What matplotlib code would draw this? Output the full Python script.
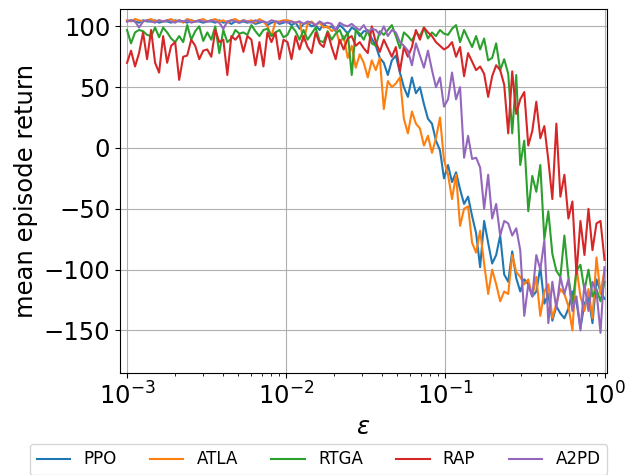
import matplotlib
matplotlib.use('Agg')
import matplotlib.pyplot as plt
import numpy as np

# perturbation budget (log spaced grid, 120 points from 1e-3 to 1)
eps = np.logspace(-3, 0, 120)

ppo = [104, 105, 104, 103, 105, 104, 104, 105, 103, 104,
       104, 103, 105, 104, 104, 103, 105, 104, 104, 103,
       104, 104, 103, 105, 103, 104, 102, 104, 103, 104,
       103, 104, 102, 103, 104, 101, 103, 104, 102, 103,
       104, 101, 103, 98, 102, 103, 100, 101, 97, 102,
       99, 100, 96, 101, 98, 94, 99, 97, 92, 96,
       96, 90, 84, 74, 70, 60, 72, 76, 62, 50,
       42, 58, 45, 50, 36, 24, 20, 6, -2, -25,
       -14, -28, -20, -34, -46, -40, -56, -70, -98, -60,
       -78, -95, -88, -72, -104, -110, -85, -107, -118, -108,
       -112, -122, -118, -98, -128, -120, -142, -130, -136, -140,
       -132, -118, -126, -148, -128, -122, -144, -108, -118, -124]

atla = [105, 104, 106, 105, 104, 105, 106, 104, 105, 104,
        105, 106, 104, 105, 103, 106, 105, 104, 105, 106,
        104, 105, 106, 104, 105, 103, 105, 106, 104, 105,
        104, 105, 103, 106, 104, 100, 92, 104, 104, 105,
        105, 104, 103, 104, 88, 102, 104, 101, 103, 99,
        100, 96, 98, 86, 92, 74, 84, 66, 77, 70,
        58, 72, 64, 74, 32, 55, 50, 53, 58, 24,
        12, 30, 20, 16, 2, 10, -4, 8, 25, -10,
        -22, -42, -22, -64, -50, -48, -78, -86, -68, -95,
        -120, -100, -112, -126, -118, -120, -88, -102, -106, -112,
        -108, -122, -106, -138, -118, -112, -140, -128, -116, -120,
        -130, -150, -98, -122, -134, -116, -140, -90, -120, -100]

rtga = [97, 86, 95, 97, 96, 93, 92, 99, 91, 99,
        95, 90, 87, 92, 87, 101, 89, 96, 100, 88,
        95, 89, 100, 78, 97, 87, 90, 97, 94, 95,
        93, 101, 96, 92, 97, 98, 92, 95, 97, 91,
        93, 100, 96, 89, 97, 89, 94, 99, 88, 87,
        96, 89, 94, 97, 89, 95, 60, 97, 94, 89,
        97, 86, 84, 96, 93, 97, 101, 92, 82, 95,
        92, 88, 95, 92, 99, 90, 95, 92, 97, 94,
        93, 98, 101, 87, 97, 90, 83, 92, 81, 90,
        72, 74, 86, 64, 73, 61, 12, 60, -14, 6,
        -52, -23, -36, -14, -75, -52, -87, -101, -106, -72,
        -106, -128, -101, -96, -117, -100, -122, -116, -126, -110]

rap = [70, 80, 67, 78, 95, 73, 97, 70, 62, 92,
       70, 84, 87, 56, 75, 76, 89, 84, 73, 80,
       81, 75, 97, 87, 89, 60, 92, 89, 93, 79,
       92, 89, 68, 87, 67, 95, 87, 95, 73, 89,
       87, 73, 92, 81, 92, 83, 78, 95, 86, 83,
       95, 83, 73, 89, 81, 90, 92, 84, 87, 82,
       78, 100, 87, 79, 89, 82, 75, 83, 63, 83,
       75, 83, 97, 89, 99, 95, 92, 87, 84, 81,
       83, 87, 75, 83, 59, 78, 71, 64, 67, 61,
       42, 59, 68, 64, 52, 12, 63, 28, 40, 46,
       2, 14, 38, 8, 18, -10, -42, 20, -40, -22,
       -58, -44, -104, -60, -88, -50, -84, -62, -60, -92]

a2pd = [104, 105, 104, 99, 104, 105, 104, 103, 105, 104,
        105, 104, 103, 105, 104, 105, 103, 104, 105, 104,
        104, 105, 104, 103, 98, 104, 105, 104, 103, 105,
        104, 103, 105, 104, 104, 103, 105, 104, 103, 104,
        103, 104, 103, 104, 102, 104, 103, 101, 104, 102,
        103, 102, 97, 103, 101, 100, 102, 99, 97, 101,
        95, 98, 97, 93, 100, 92, 97, 95, 87, 84,
        80, 68, 86, 76, 66, 80, 64, 50, 58, 34,
        40, 62, 40, 50, -8, 10, -9, -8, -16, -50,
        -22, -58, -46, -72, -60, -62, -72, -66, -84, -138,
        -112, -122, -88, -100, -76, -144, -110, -132, -106, -120,
        -108, -134, -122, -150, -112, -134, -110, -118, -152, -98]

labels = ['PPO', 'ATLA', 'RTGA', 'RAP', 'A2PD']

fig = plt.figure(figsize=(6.35, 4.75), dpi=100)
ax = fig.add_axes([0.189, 0.2147, 0.767, 0.7657])

for y, lab in zip([ppo, atla, rtga, rap, a2pd], labels):
    ax.plot(eps, y, label=lab, linewidth=1.5)

ax.set_xscale('log')
ax.set_xlim(10 ** -3.044, 10 ** 0.016)
ax.set_ylim(-185, 114)
ax.set_yticks([100, 50, 0, -50, -100, -150])
ax.grid(True)
ax.tick_params(axis='both', labelsize=17.5)
ax.set_xlabel(r'$\epsilon$', fontsize=17.5)
ax.set_ylabel('mean episode return', fontsize=17.5)

fig.legend(loc='lower left', bbox_to_anchor=(0.047, 0.0, 0.909, 0.062),
           mode='expand', ncol=5, fontsize=12, borderaxespad=0)

fig.savefig('out.png', dpi=100)
